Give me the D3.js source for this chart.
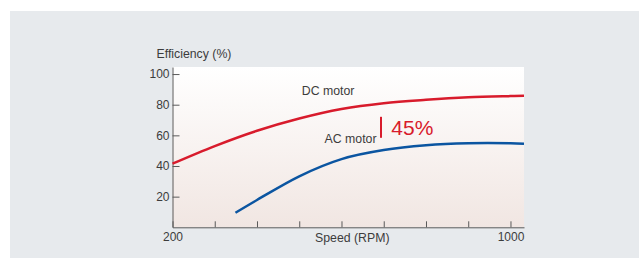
<!DOCTYPE html>
<html>
<head>
<meta charset="utf-8">
<title>Motor efficiency</title>
<style>
  body { margin: 0; background: #fff; }
  text { font-family: "Liberation Sans", Arial, sans-serif; fill: #3c3c3c; }
  .axis path, .axis line { stroke: #5a5a5a; }
  .axis text { font-size: 12px; fill: #3c3c3c; font-family: "Liberation Sans", Arial, sans-serif; }
</style>
<script src="https://d3js.org/d3.v7.min.js"></script>
</head>
<body>
<svg id="chart" width="639" height="258"></svg>
<script>
// speed (RPM) and efficiency (%)
var speedDC = [200, 300, 400, 500, 600, 700, 800, 900, 1000, 1032];
var effDC   = [41.5, 53, 63, 71, 77.2, 81, 83.2, 84.8, 85.6, 85.8];
var speedAC = [349, 400, 500, 600, 700, 800, 900, 1000, 1032];
var effAC   = [9.5, 17.8, 33.3, 44.5, 50.4, 53.5, 54.8, 54.8, 54.5];
var xTicks  = [200, 300, 400, 500, 600, 700, 800, 900, 1000];
var xLabels = ["200", "", "", "", "", "", "", "", "1000"];
var yTicks  = [20, 40, 60, 80, 100];

var svg = d3.select("#chart");

// grey panel
svg.append("rect").attr("x", 10).attr("y", 11).attr("width", 629).attr("height", 247)
   .attr("fill", "#e7eaed");

var plotLeft = 172.5, plotRight = 524, plotTop = 67, plotBottom = 227.3;

var x = d3.scaleLinear().domain([200, 1032]).range([plotLeft, plotRight]);
var y = d3.scaleLinear().domain([0, 104.6]).range([plotBottom, plotTop]);

var grad = svg.append("defs").append("linearGradient")
    .attr("id", "bg").attr("x1", 0).attr("y1", 0).attr("x2", 0).attr("y2", 1);
grad.append("stop").attr("offset", "0%").attr("stop-color", "#ffffff");
grad.append("stop").attr("offset", "100%").attr("stop-color", "#f1e6e2");

svg.append("rect").attr("x", plotLeft).attr("y", plotTop)
   .attr("width", plotRight - plotLeft).attr("height", plotBottom - plotTop)
   .attr("fill", "url(#bg)");

// axes
svg.append("g").attr("class", "axis")
   .attr("transform", "translate(0," + plotBottom + ")")
   .call(d3.axisBottom(x).tickValues(xTicks).tickSize(-6).tickSizeOuter(0).tickPadding(5)
        .tickFormat(function(d, i) { return xLabels[i]; }));

svg.append("g").attr("class", "axis")
   .attr("transform", "translate(" + plotLeft + ",0)")
   .call(d3.axisLeft(y).tickValues(yTicks).tickSize(-7).tickSizeOuter(0).tickPadding(3));

svg.append("text").attr("x", 156.5).attr("y", 57.5)
   .style("font-size", "12.3px").text("Efficiency (%)");

svg.append("text").attr("x", (plotLeft + plotRight) / 2 + 4).attr("y", 241.5)
   .attr("text-anchor", "middle").style("font-size", "12.3px").text("Speed (RPM)");

// curves
var line = d3.line()
    .x(function(d) { return x(d[0]); })
    .y(function(d) { return y(d[1]); })
    .curve(d3.curveCatmullRom.alpha(0.5));

svg.append("path").datum(d3.zip(speedDC, effDC))
   .attr("d", line).attr("fill", "none")
   .attr("stroke", "#d81b2c").attr("stroke-width", 2.5);

svg.append("path").datum(d3.zip(speedAC, effAC))
   .attr("d", line).attr("fill", "none")
   .attr("stroke", "#0b55a1").attr("stroke-width", 2.5);

// annotations
svg.append("text").attr("x", x(506)).attr("y", y(86.3))
   .style("font-size", "12.3px").text("DC motor");

svg.append("text").attr("x", x(683)).attr("y", y(54.8))
   .attr("text-anchor", "end").style("font-size", "12.3px").text("AC motor");

svg.append("line")
   .attr("x1", x(693.5)).attr("x2", x(693.5))
   .attr("y1", y(72.1)).attr("y2", y(58.4))
   .attr("stroke", "#d81b2c").attr("stroke-width", 2);

svg.append("text").attr("x", x(718)).attr("y", y(60.2))
   .style("font-size", "21px").style("fill", "#d81b2c").text("45%");
</script>
</body>
</html>
